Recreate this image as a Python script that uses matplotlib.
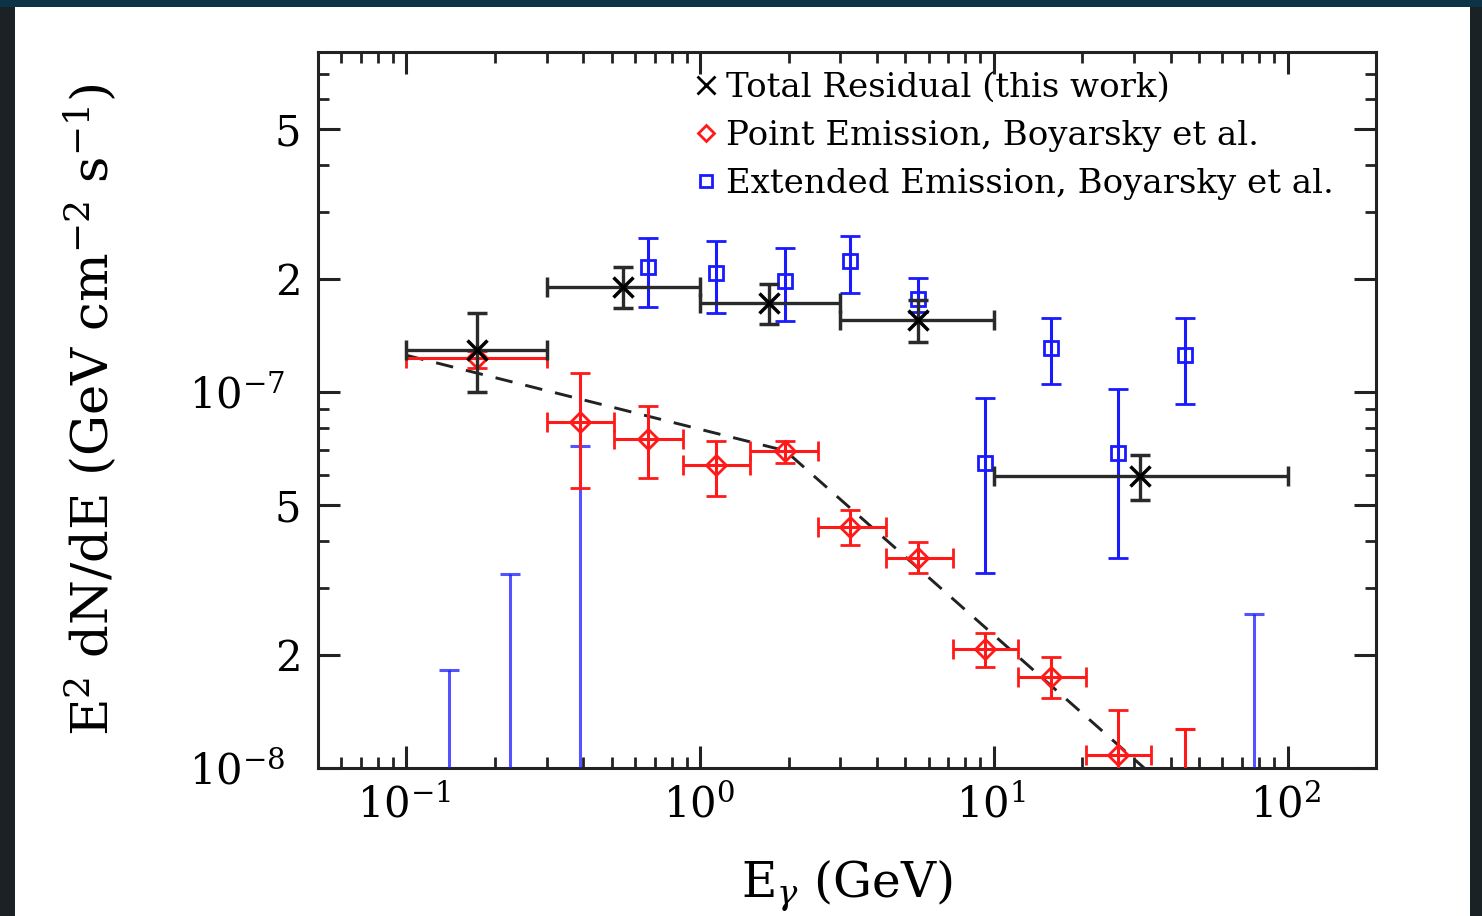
import numpy as np
import matplotlib
matplotlib.use('Agg')
import matplotlib.pyplot as plt
from matplotlib.patches import Rectangle
from matplotlib.ticker import LogLocator, FuncFormatter, NullFormatter
from matplotlib.lines import Line2D

plt.rcParams['font.family'] = ['DejaVu Serif']
plt.rcParams['mathtext.fontset'] = 'dejavuserif'

# --- Data ---
# Total residual (this work): bin centre, bin edges, flux and error range
tot_e = [0.174, 0.547, 1.72, 5.5, 31.4]
tot_lo = [0.1, 0.3, 1.0, 3.0, 10.0]
tot_hi = [0.3, 1.0, 3.0, 10.0, 100.0]
tot_f = [1.29e-7, 1.90e-7, 1.72e-7, 1.55e-7, 5.98e-8]
tot_up = [1.62e-7, 2.14e-7, 1.94e-7, 1.75e-7, 6.80e-8]
tot_dn = [1.00e-7, 1.67e-7, 1.51e-7, 1.36e-7, 5.16e-8]

# Point emission, Boyarsky et al.
pt_e = [0.174, 0.39, 0.666, 1.13, 1.95, 3.24, 5.5, 9.3, 15.7, 26.4]
pt_lo = [0.1, 0.3, 0.51, 0.875, 1.48, 2.52, 4.3, 7.26, 12.1, 20.6]
pt_hi = [0.3, 0.51, 0.875, 1.48, 2.52, 4.3, 7.26, 12.1, 20.6, 34.4]
pt_f = [1.23e-7, 8.32e-8, 7.50e-8, 6.40e-8, 6.97e-8, 4.38e-8, 3.62e-8, 2.07e-8, 1.75e-8, 1.08e-8]
pt_up = [1.28e-7, 1.12e-7, 9.18e-8, 7.41e-8, 7.41e-8, 4.86e-8, 3.99e-8, 2.29e-8, 1.97e-8, 1.43e-8]
pt_dn = [1.16e-7, 5.55e-8, 5.91e-8, 5.29e-8, 6.47e-8, 3.92e-8, 3.30e-8, 1.86e-8, 1.53e-8, 0.70e-8]
pt_ul_e = [44.6]
pt_ul_f = [1.27e-8]

# Extended emission, Boyarsky et al.
ext_e = [0.666, 1.13, 1.95, 3.24, 5.5, 9.3, 15.7, 26.4, 44.6]
ext_f = [2.14e-7, 2.07e-7, 1.97e-7, 2.23e-7, 1.76e-7, 6.47e-8, 1.31e-7, 6.88e-8, 1.25e-7]
ext_up = [2.57e-7, 2.52e-7, 2.41e-7, 2.60e-7, 2.01e-7, 9.64e-8, 1.57e-7, 1.02e-7, 1.57e-7]
ext_dn = [1.68e-7, 1.62e-7, 1.54e-7, 1.83e-7, 1.63e-7, 3.30e-8, 1.05e-7, 3.62e-8, 9.29e-8]
ext_ul_e = [0.140, 0.226, 0.39, 76.6]
ext_ul_f = [1.82e-8, 3.28e-8, 7.18e-8, 2.57e-8]

# dashed broken power law
dash_e = [0.1, 1.95, 100.0]
dash_f = [1.25e-7, 6.97e-8, 4.6e-9]

RED = '#ff1a1a'
BLUE = '#1a1aff'
BLK = '#2a2a2a'

fig = plt.figure(figsize=(14.82, 9.16), dpi=100)
fig.patch.set_facecolor('#1b2226')
fig.add_artist(Rectangle((0, 0.9924), 1, 0.0076, transform=fig.transFigure,
                         facecolor='#0c3446', edgecolor='none', zorder=-2))
fig.add_artist(Rectangle((0.0101, 0), 0.9818, 0.9924, transform=fig.transFigure,
                         facecolor='white', edgecolor='none', zorder=-1))

ax = fig.add_axes([0.2146, 0.1616, 0.7139, 0.7816])
ax.set_xscale('log')
ax.set_yscale('log')
ax.set_xlim(0.05, 200)
ax.set_ylim(1e-8, 8e-7)

def asym(c, up, dn):
    c = np.array(c)
    return [c - np.array(dn), np.array(up) - c]

# dashed model line
ax.plot(dash_e, dash_f, color='#222222', lw=2.1, ls=(0, (6, 4.5)), zorder=2)

# blue upper limits
ax.errorbar(ext_ul_e, ext_ul_f, yerr=[np.array(ext_ul_f) - 1e-9, np.zeros(len(ext_ul_f))],
            fmt='none', ecolor=BLUE, elinewidth=2.2, capsize=7, capthick=2.2, alpha=0.75, zorder=3)

# red points
ax.errorbar(pt_e, pt_f, yerr=asym(pt_f, pt_up, pt_dn),
            xerr=[np.array(pt_e) - np.array(pt_lo), np.array(pt_hi) - np.array(pt_e)],
            fmt='D', ms=10, mfc='none', mec=RED, mew=2, ecolor=RED, elinewidth=2.2,
            capsize=7, capthick=2.2, zorder=4)
ax.errorbar(pt_ul_e, pt_ul_f, yerr=[np.array(pt_ul_f) - 1e-9, np.zeros(1)],
            fmt='none', ecolor=RED, elinewidth=2.2, capsize=7, capthick=2.2, zorder=4)

# blue extended points
ax.errorbar(ext_e, ext_f, yerr=asym(ext_f, ext_up, ext_dn),
            fmt='s', ms=10, mfc='none', mec=BLUE, mew=2, ecolor=BLUE, elinewidth=2.2,
            capsize=7, capthick=2.2, zorder=5)

# black total residual
ax.errorbar(tot_e, tot_f, yerr=asym(tot_f, tot_up, tot_dn),
            xerr=[np.array(tot_e) - np.array(tot_lo), np.array(tot_hi) - np.array(tot_e)],
            fmt='x', ms=15, mec='black', mew=2.5, ecolor=BLK, elinewidth=2.4,
            capsize=7, capthick=2.4, zorder=6)

# --- axes styling ---
for s in ax.spines.values():
    s.set_linewidth(2.2)
    s.set_color('#222222')

def yfmt(v, pos):
    e = int(np.floor(np.log10(v) + 1e-9))
    m = int(round(v / 10 ** e))
    if m == 1:
        return r'$10^{%d}$' % e + '  '
    return '%d' % m

def xfmt(v, pos):
    e = int(round(np.log10(v)))
    return r'$10^{%d}$' % e + ' '

ax.yaxis.set_major_locator(LogLocator(base=10, subs=(1.0, 2.0, 5.0)))
ax.yaxis.set_minor_locator(LogLocator(base=10, subs=(3, 4, 6, 7, 8, 9)))
ax.yaxis.set_major_formatter(FuncFormatter(yfmt))
ax.yaxis.set_minor_formatter(NullFormatter())
ax.xaxis.set_major_locator(LogLocator(base=10, subs=(1.0,)))
ax.xaxis.set_minor_locator(LogLocator(base=10, subs=(2, 3, 4, 5, 6, 7, 8, 9)))
ax.xaxis.set_major_formatter(FuncFormatter(xfmt))
ax.xaxis.set_minor_formatter(NullFormatter())

ax.tick_params(which='both', direction='in', top=True, right=True, color='#222222')
ax.tick_params(which='major', length=16, width=2.2, labelsize=30, pad=12)
ax.tick_params(which='minor', length=8, width=2)

ax.set_xlabel(r'E$_\gamma$ (GeV)', fontsize=35)
ax.xaxis.set_label_coords(0.5, -0.125)
ax.set_ylabel(r'E$^2$ dN/dE (GeV cm$^{-2}$ s$^{-1}$)', fontsize=37)
ax.yaxis.set_label_coords(-0.187, 0.5)

handles = [
    Line2D([], [], ls='none', marker='x', ms=13, mec='black', mew=2),
    Line2D([], [], ls='none', marker='D', ms=8, mfc='none', mec=RED, mew=2),
    Line2D([], [], ls='none', marker='s', ms=8, mfc='none', mec=BLUE, mew=2),
]
labels = ['Total Residual (this work)',
          'Point Emission, Boyarsky et al.',
          'Extended Emission, Boyarsky et al.']
ax.legend(handles, labels, loc='upper left', bbox_to_anchor=(0.458, 0.9405),
          bbox_transform=fig.transFigure, frameon=False, fontsize=24.5,
          handlelength=0.6, handletextpad=0.3, labelspacing=0.47, borderpad=0)

fig.savefig('out.png', dpi=100, facecolor=fig.get_facecolor())
